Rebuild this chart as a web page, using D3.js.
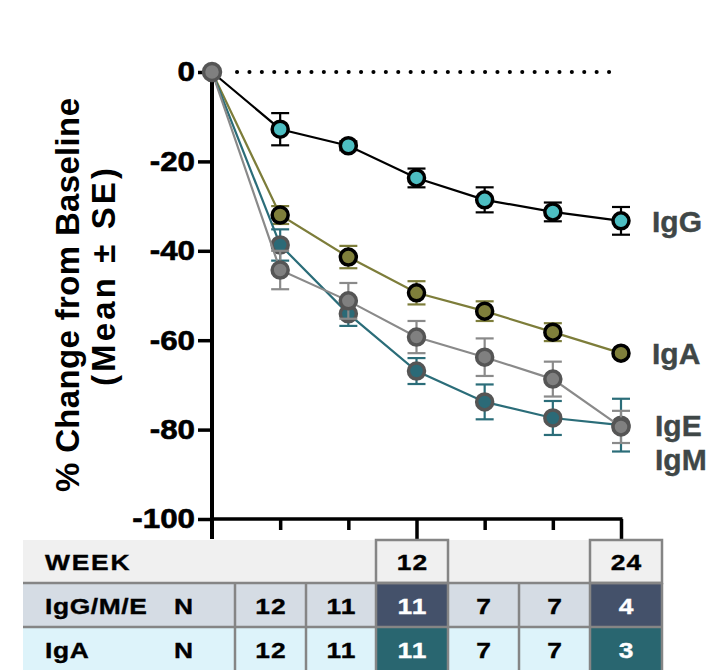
<!DOCTYPE html>
<html><head><meta charset="utf-8">
<script src="https://cdn.jsdelivr.net/npm/d3@7"></script>
<style>body{margin:0;background:#fff}svg{display:block;font-family:"Liberation Sans",Arial,sans-serif}</style>
</head><body>
<svg id="c" width="709" height="670"></svg>
<script>
// ---- data ----
const timepoints = ["0", "2", "4", "12", "16", "20", "24"];
const seriesNames = ["IgG", "IgA", "IgM", "IgE"];
const igG = [0, -12.8, -16.5, -23.7, -28.6, -31.3, -33.3];
const igGse = [0, 3.6, 1.0, 2.1, 2.8, 2.1, 3.1];
const igA = [0, -32.0, -41.4, -49.4, -53.5, -58.2, -62.9];
const igAse = [0, 2.0, 2.5, 2.6, 2.2, 2.0, 0.5];
const igM = [0, -38.7, -54.1, -66.9, -73.8, -77.4, -79.0];
const igMse = [0, 3.5, 2.7, 2.9, 3.9, 3.8, 5.9];
const igE = [0, -44.3, -51.2, -59.3, -63.8, -68.7, -79.4];
const igEse = [0, 4.3, 4.0, 3.6, 4.2, 3.9, 3.6];
const yTicks = [0, -20, -40, -60, -80, -100];
const weekLabels = ["", "", "", "12", "", "", "24"];
const nIgGME = ["12", "11", "11", "7", "7", "4"];
const nIgA = ["12", "11", "11", "7", "7", "3"];
const highlightCols = [2, 5];

const svg = d3.select("#c");
const x = d3.scalePoint().domain(timepoints).range([212, 621]);
const y = d3.scaleLinear().domain([-100, 0]).range([519, 72]);

const styles = {
  IgG: {line: "#000", fill: "#4dbec2", stroke: "#000", err: "#000"},
  IgA: {line: "#7d7d3a", fill: "#7f7f3b", stroke: "#000", err: "#7d7d3a"},
  IgM: {line: "#2b6d79", fill: "#2b6a77", stroke: "#555", err: "#2b6d79"},
  IgE: {line: "#8a8a8a", fill: "#808080", stroke: "#555", err: "#8a8a8a"}
};
const data = {
  IgG: {v: igG, se: igGse}, IgA: {v: igA, se: igAse},
  IgM: {v: igM, se: igMse}, IgE: {v: igE, se: igEse}
};

// dotted zero line
svg.append("line").attr("x1", 237).attr("x2", 620).attr("y1", y(0)).attr("y2", y(0))
  .attr("stroke", "#000").attr("stroke-width", 4).attr("stroke-dasharray", "0.1,12.3")
  .attr("stroke-linecap", "round");

// axes
const yAxis = svg.append("g").attr("transform", "translate(212,0)")
  .call(d3.axisLeft(y).tickValues(yTicks).tickSize(14).tickPadding(3).tickFormat((d) => String(d)));
yAxis.select(".domain").remove();
yAxis.selectAll(".tick line").attr("stroke", "#000").attr("stroke-width", 3.5);
yAxis.selectAll(".tick text").attr("font-size", 28).attr("font-weight", "bold")
  .attr("fill", "#000").attr("font-family", "Liberation Sans, Arial, sans-serif")
  .attr("stroke", "#000").attr("stroke-width", 0.6)
  .attr("transform", "translate(-17,0) scale(1.12,1) translate(17,0)");
svg.append("line").attr("x1", 212).attr("x2", 212).attr("y1", 70).attr("y2", 539)
  .attr("stroke", "#000").attr("stroke-width", 4);

const xAxis = svg.append("g").attr("transform", "translate(0,519)")
  .call(d3.axisBottom(x).tickValues(timepoints.slice(1)).tickSize(11).tickFormat(""));
xAxis.select(".domain").remove();
xAxis.selectAll(".tick line").attr("stroke", "#000").attr("stroke-width", 3.5)
  .attr("y2", (d) => weekLabels[timepoints.indexOf(d)] ? 21 : 11);
svg.append("line").attr("x1", 210).attr("x2", 622.5).attr("y1", 519).attr("y2", 519)
  .attr("stroke", "#000").attr("stroke-width", 3.5);

// axis title
svg.append("text").attr("transform", "translate(79,295) rotate(-90)")
  .attr("text-anchor", "middle").attr("font-weight", "bold").attr("font-size", 33).attr("fill", "#000")
  .attr("textLength", 394).attr("lengthAdjust", "spacing")
  .text("% Change from Baseline");
svg.append("text").attr("transform", "translate(115,277) rotate(-90)")
  .attr("text-anchor", "middle").attr("font-weight", "bold").attr("font-size", 33).attr("fill", "#000")
  .attr("textLength", 218).attr("lengthAdjust", "spacing")
  .text("(Mean ± SE)");

// series
const order = ["IgG", "IgA", "IgM", "IgE"];
const line = d3.line().x((d, i) => x(timepoints[i])).y((d) => y(d));
order.forEach((name) => {
  const s = styles[name], dd = data[name];
  const g = svg.append("g");
  g.append("path").datum(dd.v).attr("d", line).attr("fill", "none")
    .attr("stroke", s.line).attr("stroke-width", 2.2);
  dd.v.forEach((v, i) => {
    if (dd.se[i] <= 0) return;
    const cx = x(timepoints[i]), lo = y(v - dd.se[i]), hi = y(v + dd.se[i]);
    g.append("line").attr("x1", cx).attr("x2", cx).attr("y1", hi).attr("y2", lo)
      .attr("stroke", s.err).attr("stroke-width", 2.2);
    [hi, lo].forEach((yy) => g.append("line").attr("x1", cx - 9).attr("x2", cx + 9)
      .attr("y1", yy).attr("y2", yy).attr("stroke", s.err).attr("stroke-width", 2.2));
  });
  dd.v.forEach((v, i) => {
    if (i === 0) return;
    g.append("circle").attr("cx", x(timepoints[i])).attr("cy", y(v)).attr("r", 8)
      .attr("fill", s.fill).attr("stroke", s.stroke).attr("stroke-width", 3.5);
  });
});
// baseline point
svg.append("circle").attr("cx", x(timepoints[0])).attr("cy", y(0)).attr("r", 8.5)
  .attr("fill", "#808080").attr("stroke", "#555").attr("stroke-width", 3.5);

// series labels
const labelPos = {IgG: [652, igG[6]], IgA: [652, igA[6]], IgE: [655, -79.0], IgM: [655, -86.6]};
Object.keys(labelPos).forEach((k) => {
  svg.append("text").attr("x", labelPos[k][0]).attr("y", y(labelPos[k][1]))
    .attr("dy", "0.36em").attr("font-size", 30).attr("font-weight", "bold")
    .attr("fill", "#3f4747").attr("stroke", "#3f4747").attr("stroke-width", 0.4).text(k);
});

// table
const colEdges = [235, 306, 376, 448, 519, 590, 662];
const tbl = svg.append("g");
const rowY = [540, 583, 627, 672];
tbl.append("rect").attr("x", 23).attr("y", rowY[0]).attr("width", 662 - 23).attr("height", rowY[1] - rowY[0]).attr("fill", "#f0f0f0");
tbl.append("rect").attr("x", 23).attr("y", rowY[1]).attr("width", 662 - 23).attr("height", rowY[2] - rowY[1]).attr("fill", "#d5dce4");
tbl.append("rect").attr("x", 23).attr("y", rowY[2]).attr("width", 662 - 23).attr("height", rowY[3] - rowY[2]).attr("fill", "#ddf3fa");
highlightCols.forEach((c) => {
  tbl.append("rect").attr("x", colEdges[c]).attr("y", rowY[1]).attr("width", colEdges[c + 1] - colEdges[c]).attr("height", rowY[2] - rowY[1]).attr("fill", "#44516a");
  tbl.append("rect").attr("x", colEdges[c]).attr("y", rowY[2]).attr("width", colEdges[c + 1] - colEdges[c]).attr("height", rowY[3] - rowY[2]).attr("fill", "#296670");
  tbl.append("rect").attr("x", colEdges[c]).attr("y", rowY[0]).attr("width", colEdges[c + 1] - colEdges[c]).attr("height", rowY[1] - rowY[0])
    .attr("fill", "none").attr("stroke", "#858585").attr("stroke-width", 2.5);
});
[rowY[1], rowY[2]].forEach((yy) => tbl.append("line").attr("x1", 23).attr("x2", 662).attr("y1", yy).attr("y2", yy).attr("stroke", "#858585").attr("stroke-width", 2.5));
colEdges.forEach((xx) => tbl.append("line").attr("x1", xx).attr("x2", xx).attr("y1", rowY[1]).attr("y2", rowY[3]).attr("stroke", "#858585").attr("stroke-width", 2.5));

// stretched table text
function cellText(tx, ty, str, anchor, fill, ls) {
  tbl.append("text").attr("transform", `translate(${tx},${ty}) scale(1.2,1)`)
    .attr("text-anchor", anchor).attr("dy", "0.36em").attr("font-weight", "bold")
    .attr("font-size", 22).attr("fill", fill).attr("stroke", fill).attr("stroke-width", 0.35)
    .attr("letter-spacing", ls || 0)
    .attr("dx", anchor === "middle" ? (ls || 0) / 2 : 0)
    .text(str);
}
cellText(45, (rowY[0] + rowY[1]) / 2 + 1, "WEEK", "start", "#000", 1.5);
weekLabels.slice(1).forEach((w, i) => {
  if (!w) return;
  cellText((colEdges[i] + colEdges[i + 1]) / 2, (rowY[0] + rowY[1]) / 2 + 1, w, "middle", "#000", 1);
});
[["IgG/M/E", nIgGME, 1], ["IgA", nIgA, 2]].forEach(([lab, vals, r]) => {
  const cy = r === 1 ? 606 : 650;
  cellText(45, cy, lab, "start", "#000", 0.5);
  cellText(174, cy, "N", "start", "#000", 0);
  vals.forEach((v, i) => {
    cellText((colEdges[i] + colEdges[i + 1]) / 2, cy, v, "middle", highlightCols.includes(i) ? "#fff" : "#000", 1);
  });
});
</script>
</body></html>
